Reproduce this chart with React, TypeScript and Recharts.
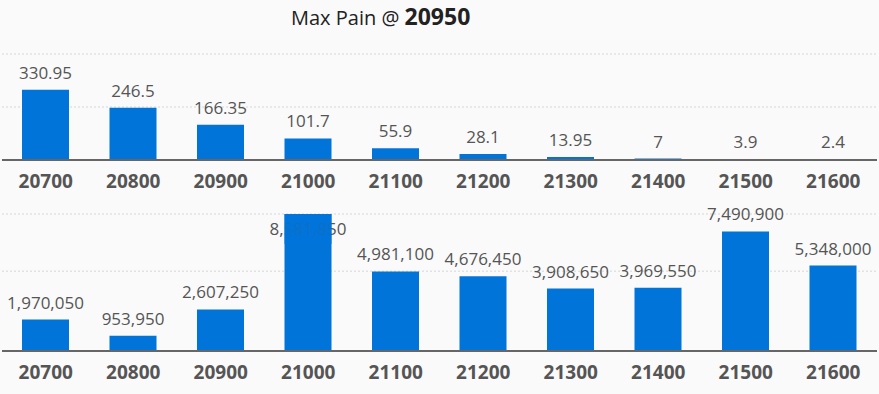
import React from "react";
import { BarChart, Bar, XAxis, YAxis, CartesianGrid, LabelList } from "recharts";

const strikes = ["20700", "20800", "20900", "21000", "21100", "21200", "21300", "21400", "21500", "21600"];
const painValues = [330.95, 246.5, 166.35, 101.7, 55.9, 28.1, 13.95, 7, 3.9, 2.4];
const oiValues = [1970050, 953950, 2607250, 8581850, 4981100, 4676450, 3908650, 3969550, 7490900, 5348000];
const painTicks = [0, 250, 500];
const oiTicks = [0, 5000000];
const maxPainStrike = "20950";

const BAR = "#0074d9";
const FONT = "'Open Sans', 'Noto Sans', sans-serif";

const painData = strikes.map((s, i) => ({ strike: s, value: painValues[i] }));
const oiData = strikes.map((s, i) => ({ strike: s, value: oiValues[i] }));

function makeLabel(fmt: (v: number) => string) {
  return (props: any) => {
    const { x, y, width, value } = props;
    let base = y - 11;
    const inside = base - 13 < 0;
    // no room above the bar: the source puts it inside and the bar shows through
    if (inside) base = y + 21;
    return (
      <g>
        <text x={x + width / 2} y={base} textAnchor="middle" fill="#555" fontSize={17} fontFamily={FONT}>
          {fmt(value)}
        </text>
        {inside && <rect x={x} y={y} width={width} height={30} fill={BAR} fillOpacity={0.85} />}
      </g>
    );
  };
}

const tickStyle = { fill: "#555", fontSize: 19, fontWeight: 700, fontFamily: FONT };

export default function App() {
  return (
    <div style={{ position: "absolute", left: 0, top: 0, width: 879, height: 394, background: "#fafafa", fontFamily: FONT }}>
      <div style={{ position: "absolute", left: 291, top: 0, fontSize: 23, lineHeight: "normal", color: "#222", whiteSpace: "nowrap" }}>
        <span style={{ fontSize: 20 }}>Max Pain @ </span>
        <span style={{ fontWeight: 700 }}>{maxPainStrike}</span>
      </div>

      <div style={{ position: "absolute", left: 0, top: 0 }}>
        <BarChart width={879} height={200} data={painData} margin={{ top: 54, right: 2, left: 2, bottom: 0 }} barSize={47}>
          <CartesianGrid vertical={false} stroke="#d6d6d6" strokeDasharray="2 2" />
          <YAxis hide domain={[0, 500]} ticks={painTicks} />
          <XAxis
            dataKey="strike"
            height={40}
            tickLine={false}
            tickMargin={9}
            axisLine={{ stroke: "#666", strokeWidth: 2 }}
            tick={tickStyle}
            interval={0}
          />
          <Bar dataKey="value" fill={BAR} isAnimationActive={false}>
            <LabelList dataKey="value" content={makeLabel((v) => String(v))} />
          </Bar>
        </BarChart>
      </div>

      <div style={{ position: "absolute", left: 0, top: 200 }}>
        <BarChart width={879} height={194} data={oiData} margin={{ top: 14, right: 2, left: 2, bottom: 0 }} barSize={47}>
          <CartesianGrid vertical={false} stroke="#d6d6d6" strokeDasharray="2 2" />
          <YAxis hide domain={[0, "dataMax"]} ticks={oiTicks} />
          <XAxis
            dataKey="strike"
            height={43}
            tickLine={false}
            tickMargin={9}
            axisLine={{ stroke: "#666", strokeWidth: 2 }}
            tick={tickStyle}
            interval={0}
          />
          <Bar dataKey="value" fill={BAR} isAnimationActive={false}>
            <LabelList dataKey="value" content={makeLabel((v) => v.toLocaleString("en-US"))} />
          </Bar>
        </BarChart>
      </div>
    </div>
  );
}
